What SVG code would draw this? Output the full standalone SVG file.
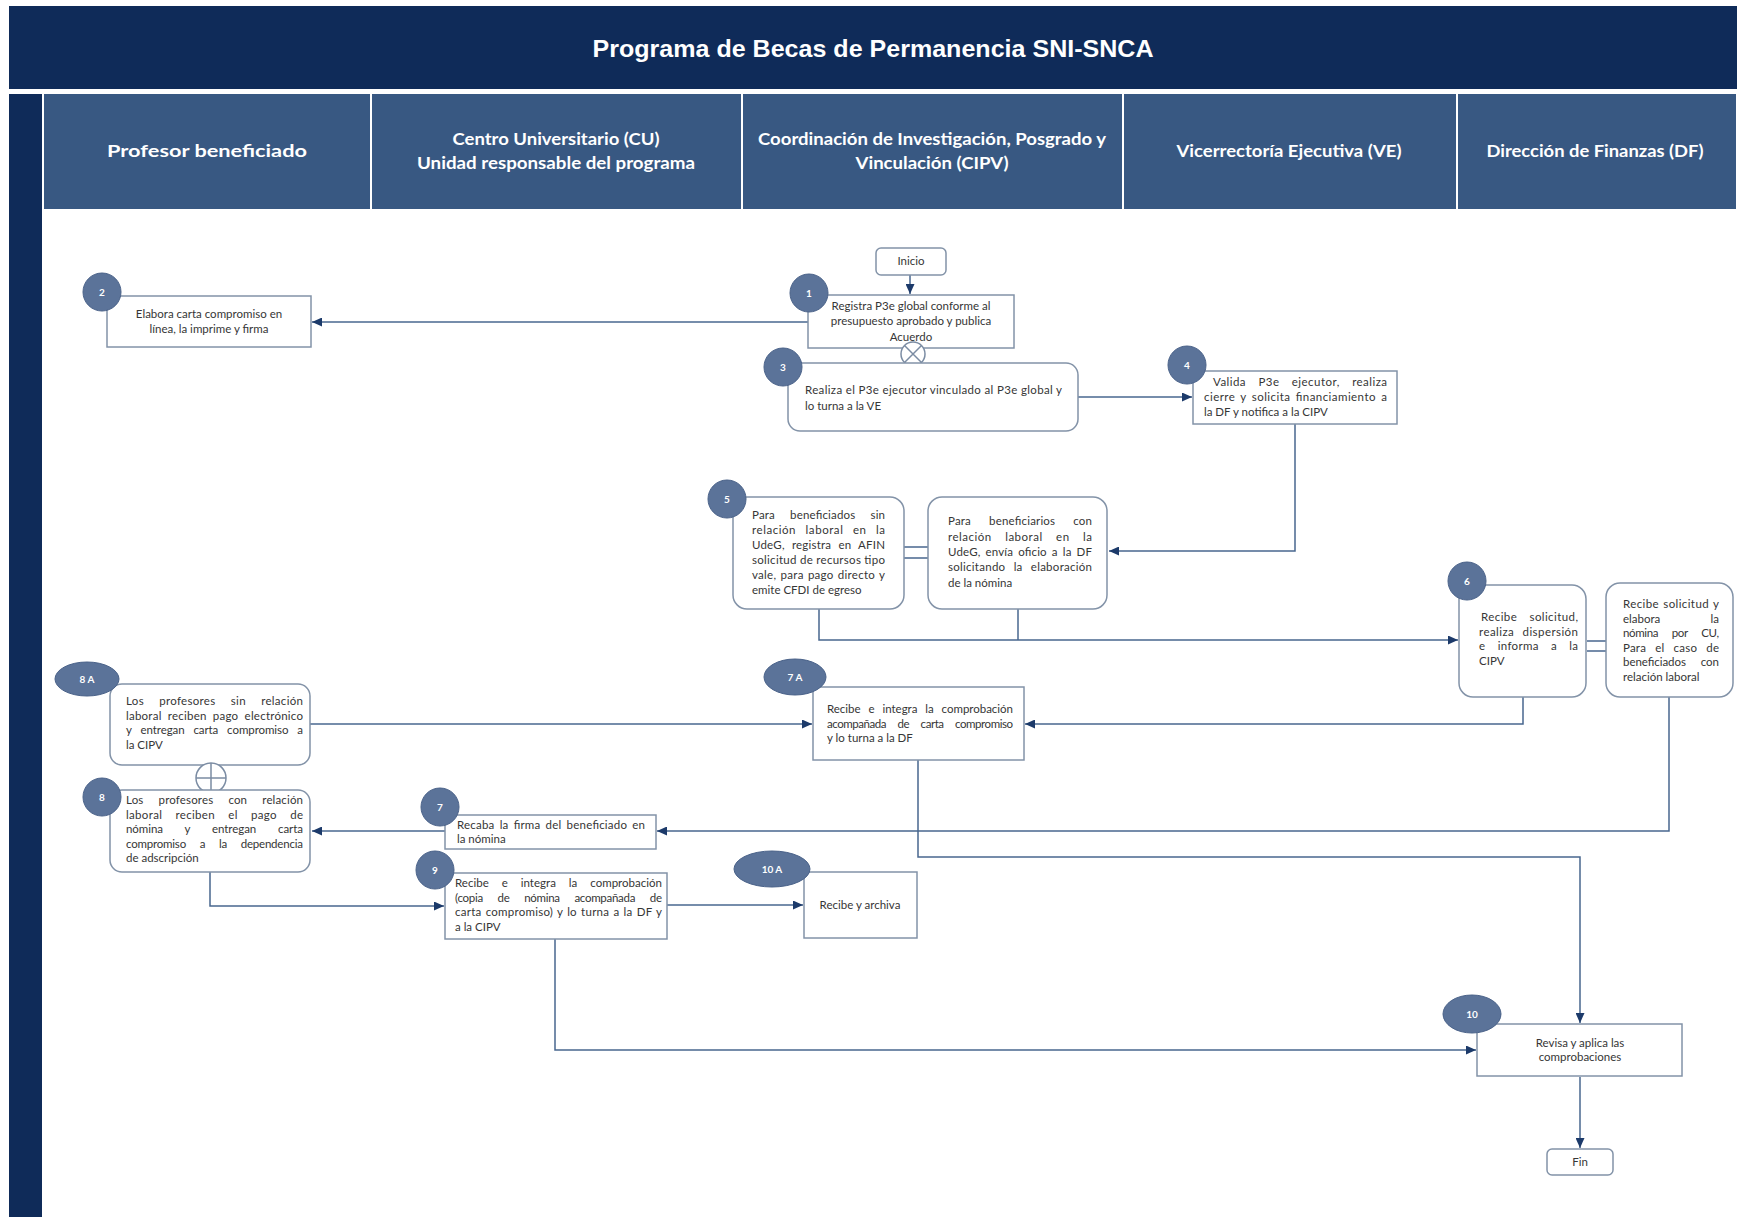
<svg xmlns="http://www.w3.org/2000/svg" width="1743" height="1217" viewBox="0 0 1743 1217">
<style>
.box{fill:#ffffff;stroke:#8393a8;stroke-width:1.5}
.num{fill:#5b7399;stroke:#4a6289;stroke-width:1}
.t{font-family:Lato,"Open Sans","DejaVu Sans",sans-serif;font-size:11.5px;fill:#363636}
.c{text-anchor:middle}
.n{font-family:Lato,"DejaVu Sans",sans-serif;font-size:10px;font-weight:bold;fill:#ffffff;text-anchor:middle}
.conn{fill:none;stroke:#48678f;stroke-width:1.5}
.hd{font-family:Lato,"DejaVu Sans",sans-serif;font-weight:bold;font-size:17.5px;fill:#ffffff;text-anchor:middle}
.sym{fill:#ffffff;stroke:#7b8ca3;stroke-width:1.5}
</style>
<defs>
<marker id="arr" markerUnits="userSpaceOnUse" markerWidth="11" markerHeight="9" refX="10" refY="4.5" orient="auto">
<path d="M0,0 L10,4.5 L0,9 z" fill="#1c3a6a"/>
</marker>
</defs>
<rect x="0" y="0" width="1743" height="1217" fill="#ffffff"/>
<g id="title">
<rect x="9" y="6" width="1728" height="83" fill="#0f2b59"/>
<text x="873" y="57" font-family="Liberation Sans, Arial, sans-serif" font-weight="bold" font-size="24" fill="#ffffff" text-anchor="middle" textLength="561" lengthAdjust="spacingAndGlyphs">Programa de Becas de Permanencia SNI-SNCA</text>
</g>
<g id="lanes">
<rect x="9" y="94" width="33" height="1123" fill="#0f2b59"/>
<rect x="44" y="94" width="1692" height="115" fill="#385882"/>
<line x1="371" y1="94" x2="371" y2="209" stroke="#ffffff" stroke-width="2"/>
<line x1="742" y1="94" x2="742" y2="209" stroke="#ffffff" stroke-width="2"/>
<line x1="1123" y1="94" x2="1123" y2="209" stroke="#ffffff" stroke-width="2"/>
<line x1="1457" y1="94" x2="1457" y2="209" stroke="#ffffff" stroke-width="2"/>
<text class="hd" x="207" y="157" textLength="200" lengthAdjust="spacingAndGlyphs">Profesor beneficiado</text>
<text class="hd" x="556" y="145" textLength="207" lengthAdjust="spacingAndGlyphs">Centro Universitario (CU)</text>
<text class="hd" x="556" y="169" textLength="278" lengthAdjust="spacingAndGlyphs">Unidad responsable del programa</text>
<text class="hd" x="932" y="145" textLength="348" lengthAdjust="spacingAndGlyphs">Coordinación de Investigación, Posgrado y</text>
<text class="hd" x="932" y="169" textLength="153" lengthAdjust="spacingAndGlyphs">Vinculación (CIPV)</text>
<text class="hd" x="1289" y="157" textLength="225" lengthAdjust="spacingAndGlyphs">Vicerrectoría Ejecutiva (VE)</text>
<text class="hd" x="1595" y="157" textLength="217" lengthAdjust="spacingAndGlyphs">Dirección de Finanzas (DF)</text>
</g>
<g id="connectors">
<path class="conn" d="M910,275 V294" marker-end="url(#arr)"/>
<path class="conn" d="M808,322 H312" marker-end="url(#arr)"/>
<path class="conn" d="M1078,397 H1192" marker-end="url(#arr)"/>
<path class="conn" d="M1295,424 V551 H1109" marker-end="url(#arr)"/>
<path class="conn" d="M819,609 V640 H1458" marker-end="url(#arr)"/>
<path class="conn" d="M1018,609 V640"/>
<path class="conn" d="M904,547 H928 M904,558 H928"/>
<path class="conn" d="M1587,641 H1606 M1587,651 H1606"/>
<path class="conn" d="M1523,697 V724 H1025" marker-end="url(#arr)"/>
<path class="conn" d="M310,724 H812" marker-end="url(#arr)"/>
<path class="conn" d="M1669,697 V831 H657" marker-end="url(#arr)"/>
<path class="conn" d="M445,831 H312" marker-end="url(#arr)"/>
<path class="conn" d="M210,872 V906 H444" marker-end="url(#arr)"/>
<path class="conn" d="M667,905 H803" marker-end="url(#arr)"/>
<path class="conn" d="M918,760 V857 H1580 V1023" marker-end="url(#arr)"/>
<path class="conn" d="M555,939 V1050 H1476" marker-end="url(#arr)"/>
<path class="conn" d="M1580,1077 V1148" marker-end="url(#arr)"/>
</g>
<g id="inicio">
<rect class="box" x="876" y="248" width="70" height="27" rx="5"/>
<text class="t c" x="911" y="265">Inicio</text>
</g>
<g id="n1">
<rect class="box" x="808" y="295" width="206" height="53"/>
<text class="t c" x="911" y="310">Registra P3e global conforme al</text>
<text class="t c" x="911" y="325">presupuesto aprobado y publica</text>
<text class="t c" x="911" y="341">Acuerdo</text>
<circle class="num" cx="809" cy="293" r="19"/>
<text class="n" x="809" y="297">1</text>
</g>
<g id="sym-x">
<circle class="sym" cx="913" cy="354" r="12"/>
<path d="M904.5,345.5 L921.5,362.5 M921.5,345.5 L904.5,362.5" stroke="#7b8ca3" stroke-width="1.5"/>
</g>
<g id="n2">
<rect class="box" x="107" y="296" width="204" height="51"/>
<text class="t c" x="209" y="318">Elabora carta compromiso en</text>
<text class="t c" x="209" y="333">línea, la imprime y firma</text>
<circle class="num" cx="102" cy="292" r="19"/>
<text class="n" x="102" y="296">2</text>
</g>
<g id="n3">
<rect class="box" x="788" y="363" width="290" height="68" rx="12"/>
<text class="t" x="805" y="394" textLength="257" lengthAdjust="spacing">Realiza el P3e ejecutor vinculado al P3e global y</text>
<text class="t" x="805" y="410">lo turna a la VE</text>
<circle class="num" cx="783" cy="367" r="19"/>
<text class="n" x="783" y="371">3</text>
</g>
<g id="n4">
<rect class="box" x="1193" y="371" width="204" height="53"/>
<text class="t" x="1213" y="386" word-spacing="9" textLength="174" lengthAdjust="spacing">Valida P3e ejecutor, realiza</text>
<text class="t" x="1204" y="401" word-spacing="2" textLength="183" lengthAdjust="spacing">cierre y solicita financiamiento a</text>
<text class="t" x="1204" y="416">la DF y notifica a la CIPV</text>
<circle class="num" cx="1187" cy="365" r="19"/>
<text class="n" x="1187" y="369">4</text>
</g>
<g id="n5a">
<rect class="box" x="733" y="497" width="171" height="112" rx="14"/>
<text class="t" x="752" y="519" word-spacing="12" textLength="133" lengthAdjust="spacing">Para beneficiados sin</text>
<text class="t" x="752" y="534" word-spacing="6" textLength="133" lengthAdjust="spacing">relación laboral en la</text>
<text class="t" x="752" y="549" word-spacing="4" textLength="133" lengthAdjust="spacing">UdeG, registra en AFIN</text>
<text class="t" x="752" y="564" textLength="133" lengthAdjust="spacing">solicitud de recursos tipo</text>
<text class="t" x="752" y="579" word-spacing="1" textLength="133" lengthAdjust="spacing">vale, para pago directo y</text>
<text class="t" x="752" y="594">emite CFDI de egreso</text>
<circle class="num" cx="727" cy="499" r="19"/>
<text class="n" x="727" y="503">5</text>
</g>
<g id="n5b">
<rect class="box" x="928" y="497" width="179" height="112" rx="14"/>
<text class="t" x="948" y="525" word-spacing="15" textLength="144" lengthAdjust="spacing">Para beneficiarios con</text>
<text class="t" x="948" y="540.5" word-spacing="10" textLength="144" lengthAdjust="spacing">relación laboral en la</text>
<text class="t" x="948" y="556" word-spacing="2" textLength="144" lengthAdjust="spacing">UdeG, envía oficio a la DF</text>
<text class="t" x="948" y="571" word-spacing="5" textLength="144" lengthAdjust="spacing">solicitando la elaboración</text>
<text class="t" x="948" y="586.5">de la nómina</text>
</g>
<g id="n6">
<rect class="box" x="1459" y="585" width="127" height="112" rx="14"/>
<text class="t" x="1481" y="621" word-spacing="9" textLength="97" lengthAdjust="spacing">Recibe solicitud,</text>
<text class="t" x="1479" y="635.5" word-spacing="5" textLength="99" lengthAdjust="spacing">realiza dispersión</text>
<text class="t" x="1479" y="650" word-spacing="9" textLength="99" lengthAdjust="spacing">e informa a la</text>
<text class="t" x="1479" y="664.5">CIPV</text>
<circle class="num" cx="1467" cy="581" r="19"/>
<text class="n" x="1467" y="585">6</text>
</g>
<g id="n6b">
<rect class="box" x="1606" y="583" width="127" height="114" rx="14"/>
<text class="t" x="1623" y="608" word-spacing="1" textLength="96" lengthAdjust="spacing">Recibe solicitud y</text>
<text class="t" x="1623" y="622.5">elabora</text>
<text class="t" x="1719" y="622.5" text-anchor="end">la</text>
<text class="t" x="1623" y="637" word-spacing="11" textLength="96" lengthAdjust="spacing">nómina por CU,</text>
<text class="t" x="1623" y="651.5" word-spacing="6" textLength="96" lengthAdjust="spacing">Para el caso de</text>
<text class="t" x="1623" y="666" word-spacing="12" textLength="96" lengthAdjust="spacing">beneficiados con</text>
<text class="t" x="1623" y="680.5">relación laboral</text>
</g>
<g id="n7a">
<rect class="box" x="813" y="687" width="211" height="73"/>
<text class="t" x="827" y="713" word-spacing="5" textLength="186" lengthAdjust="spacing">Recibe e integra la comprobación</text>
<text class="t" x="827" y="727.5" word-spacing="9" textLength="186" lengthAdjust="spacing">acompañada de carta compromiso</text>
<text class="t" x="827" y="742">y lo turna a la DF</text>
<ellipse class="num" cx="795" cy="677" rx="31" ry="18"/>
<text class="n" x="795" y="681">7 A</text>
</g>
<g id="n8a">
<rect class="box" x="110" y="684" width="200" height="81" rx="12"/>
<text class="t" x="126" y="705" word-spacing="12" textLength="177" lengthAdjust="spacing">Los profesores sin relación</text>
<text class="t" x="126" y="719.5" word-spacing="3" textLength="177" lengthAdjust="spacing">laboral reciben pago electrónico</text>
<text class="t" x="126" y="734" word-spacing="6" textLength="177" lengthAdjust="spacing">y entregan carta compromiso a</text>
<text class="t" x="126" y="748.5">la CIPV</text>
<ellipse class="num" cx="87" cy="679" rx="32" ry="17"/>
<text class="n" x="87" y="683">8 A</text>
</g>
<g id="sym-plus">
<circle class="sym" cx="211" cy="778" r="15"/>
<path d="M196,778 H226 M211,763 V793" stroke="#7b8ca3" stroke-width="1.5"/>
</g>
<g id="n8">
<rect class="box" x="110" y="790" width="200" height="82" rx="12"/>
<text class="t" x="126" y="804" word-spacing="12" textLength="177" lengthAdjust="spacing">Los profesores con relación</text>
<text class="t" x="126" y="818.5" word-spacing="10" textLength="177" lengthAdjust="spacing">laboral reciben el pago de</text>
<text class="t" x="126" y="833" word-spacing="19" textLength="177" lengthAdjust="spacing">nómina y entregan carta</text>
<text class="t" x="126" y="847.5" word-spacing="11" textLength="177" lengthAdjust="spacing">compromiso a la dependencia</text>
<text class="t" x="126" y="862">de adscripción</text>
<circle class="num" cx="102" cy="797" r="19"/>
<text class="n" x="102" y="801">8</text>
</g>
<g id="n7">
<rect class="box" x="445" y="815" width="211" height="34"/>
<text class="t" x="457" y="829" word-spacing="2" textLength="188" lengthAdjust="spacing">Recaba la firma del beneficiado en</text>
<text class="t" x="457" y="843">la nómina</text>
<circle class="num" cx="440" cy="807" r="19"/>
<text class="n" x="440" y="811">7</text>
</g>
<g id="n9">
<rect class="box" x="445" y="873" width="222" height="66"/>
<text class="t" x="455" y="887" word-spacing="10" textLength="207" lengthAdjust="spacing">Recibe e integra la comprobación</text>
<text class="t" x="455" y="901.5" word-spacing="12" textLength="207" lengthAdjust="spacing">(copia de nómina acompañada de</text>
<text class="t" x="455" y="916" word-spacing="1" textLength="207" lengthAdjust="spacing">carta compromiso) y lo turna a la DF y</text>
<text class="t" x="455" y="930.5">a la CIPV</text>
<circle class="num" cx="435" cy="870" r="19"/>
<text class="n" x="435" y="874">9</text>
</g>
<g id="n10a">
<rect class="box" x="804" y="872" width="113" height="66"/>
<text class="t c" x="860" y="909">Recibe y archiva</text>
<ellipse class="num" cx="772" cy="869" rx="38" ry="18"/>
<text class="n" x="772" y="873">10 A</text>
</g>
<g id="n10">
<rect class="box" x="1477" y="1024" width="205" height="52"/>
<text class="t c" x="1580" y="1047">Revisa y aplica las</text>
<text class="t c" x="1580" y="1061">comprobaciones</text>
<ellipse class="num" cx="1472" cy="1014" rx="29" ry="19"/>
<text class="n" x="1472" y="1018">10</text>
</g>
<g id="fin">
<rect class="box" x="1547" y="1149" width="66" height="26" rx="5"/>
<text class="t c" x="1580" y="1166">Fin</text>
</g>
</svg>
